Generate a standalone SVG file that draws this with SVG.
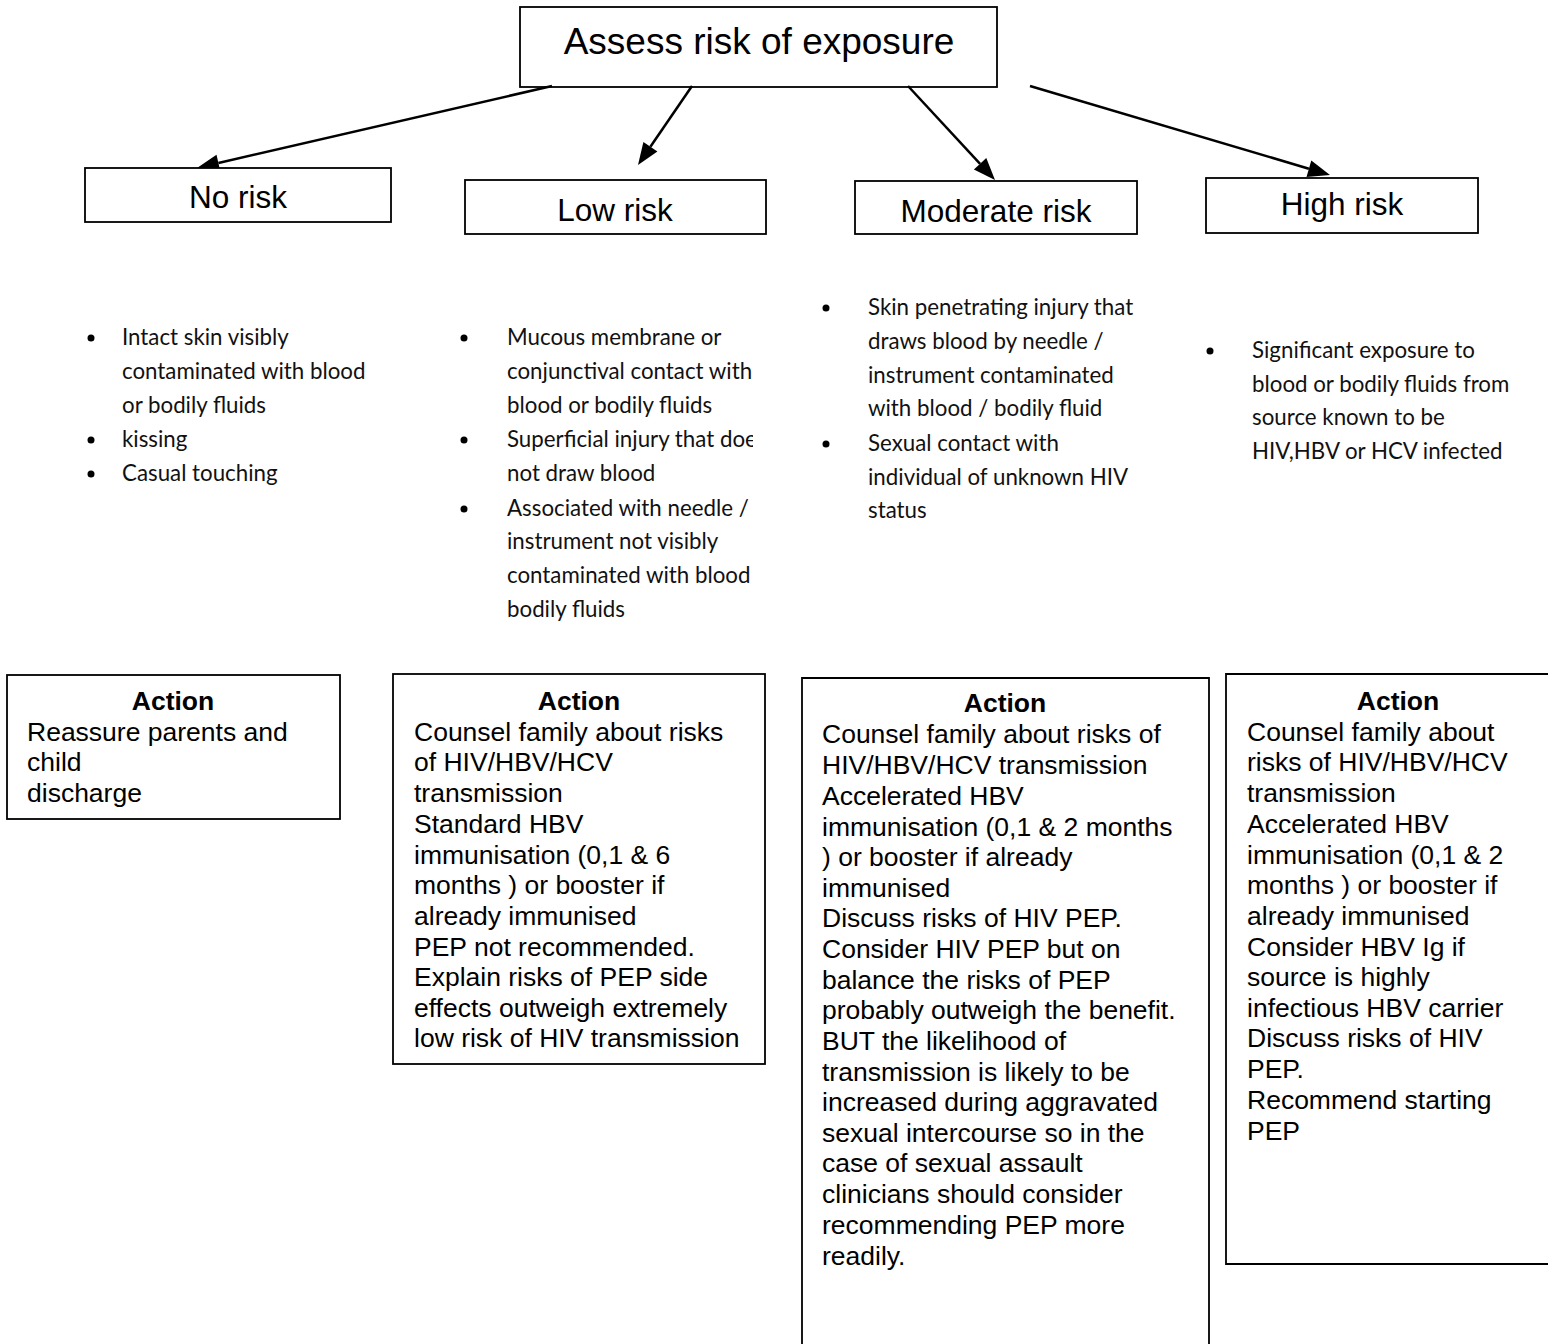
<svg xmlns="http://www.w3.org/2000/svg" width="1548" height="1344" viewBox="0 0 1548 1344">
<style>
.box{fill:#fff;stroke:#000;stroke-width:1.8}
.t{font-family:"Liberation Sans",Arial,sans-serif;fill:#000}
.title{font-size:37px}
.lvl{font-size:31.5px}
.act{font-size:26.5px}
.bold{font-weight:bold}
.bl{font-family:Lato,"Open Sans",sans-serif;font-size:22.3px;fill:#111}
.conn{stroke:#000;stroke-width:2.5;fill:none}
.head{fill:#000;stroke:none}
</style>
<defs>
<clipPath id="lowclip"><rect x="440" y="300" width="313" height="330"/></clipPath>
</defs>
<rect width="1548" height="1344" fill="#fff"/>

<g id="assess">
<rect class="box" x="520" y="7" width="477" height="80"/>
<text class="t title" x="759" y="54" text-anchor="middle">Assess risk of exposure</text>
</g>

<g id="connectors">
<line class="conn" x1="552" y1="86" x2="218.4" y2="163"/>
<polygon class="head" points="197,168 216.5,154.8 220.3,171.3"/>
<line class="conn" x1="692" y1="86" x2="650.4" y2="146.8"/>
<polygon class="head" points="638,165 643.4,142 657.4,151.6"/>
<line class="conn" x1="908" y1="86" x2="980.1" y2="163.9"/>
<polygon class="head" points="995,180 973.9,169.6 986.3,158.1"/>
<line class="conn" x1="1030" y1="86" x2="1308.9" y2="168.7"/>
<polygon class="head" points="1330,175 1306.5,176.9 1311.3,160.6"/>
</g>

<g id="no-risk">
<rect class="box" x="85" y="168" width="306" height="54"/>
<text class="t lvl" x="238" y="208" text-anchor="middle">No risk</text>
</g>
<g id="low-risk">
<rect class="box" x="465" y="180" width="301" height="54"/>
<text class="t lvl" x="615" y="221" text-anchor="middle">Low risk</text>
</g>
<g id="moderate-risk">
<rect class="box" x="855" y="181" width="282" height="53"/>
<text class="t lvl" x="996" y="222" text-anchor="middle">Moderate risk</text>
</g>
<g id="high-risk">
<rect class="box" x="1206" y="178" width="272" height="55"/>
<text class="t lvl" x="1342" y="215" text-anchor="middle">High risk</text>
</g>

<g id="no-risk-criteria">
<circle cx="91" cy="338" r="3.5"/>
<circle cx="91" cy="440" r="3.5"/>
<circle cx="91" cy="474" r="3.5"/>
<text class="bl" x="122" y="345">Intact skin visibly</text>
<text class="bl" x="122" y="379">contaminated with blood</text>
<text class="bl" x="122" y="413">or bodily fluids</text>
<text class="bl" x="122" y="447">kissing</text>
<text class="bl" x="122" y="481">Casual touching</text>
</g>

<g id="low-risk-criteria">
<circle cx="464" cy="338" r="3.5"/>
<circle cx="464" cy="440" r="3.5"/>
<circle cx="464" cy="509" r="3.5"/>
<g clip-path="url(#lowclip)">
<text class="bl" x="507" y="345">Mucous membrane or</text>
<text class="bl" x="507" y="379">conjunctival contact with</text>
<text class="bl" x="507" y="413">blood or bodily fluids</text>
<text class="bl" x="507" y="447">Superficial injury that doe</text>
<text class="bl" x="507" y="481">not draw blood</text>
<text class="bl" x="507" y="516">Associated with needle /</text>
<text class="bl" x="507" y="549">instrument not visibly</text>
<text class="bl" x="507" y="583">contaminated with blood</text>
<text class="bl" x="507" y="617">bodily fluids</text>
</g>
</g>

<g id="moderate-risk-criteria">
<circle cx="826" cy="308" r="3.5"/>
<circle cx="826" cy="444" r="3.5"/>
<text class="bl" x="868" y="315">Skin penetrating injury that</text>
<text class="bl" x="868" y="349">draws blood by needle /</text>
<text class="bl" x="868" y="383">instrument contaminated</text>
<text class="bl" x="868" y="416">with blood / bodily fluid</text>
<text class="bl" x="868" y="451">Sexual contact with</text>
<text class="bl" x="868" y="485">individual of unknown HIV</text>
<text class="bl" x="868" y="518">status</text>
</g>

<g id="high-risk-criteria">
<circle cx="1210" cy="351" r="3.5"/>
<text class="bl" x="1252" y="358">Significant exposure to</text>
<text class="bl" x="1252" y="392">blood or bodily fluids from</text>
<text class="bl" x="1252" y="425">source known to be</text>
<text class="bl" x="1252" y="459">HIV,HBV or HCV infected</text>
</g>

<g id="no-risk-action">
<rect class="box" x="7" y="675" width="333" height="144"/>
<text class="t act bold" x="173" y="710" text-anchor="middle">Action</text>
<text class="t act" x="27" y="741">Reassure parents and</text>
<text class="t act" x="27" y="771">child</text>
<text class="t act" x="27" y="802">discharge</text>
</g>

<g id="low-risk-action">
<rect class="box" x="393" y="674" width="372" height="390"/>
<text class="t act bold" x="579" y="710" text-anchor="middle">Action</text>
<text class="t act" x="414" y="741">Counsel family about risks</text>
<text class="t act" x="414" y="771">of HIV/HBV/HCV</text>
<text class="t act" x="414" y="802">transmission</text>
<text class="t act" x="414" y="833">Standard HBV</text>
<text class="t act" x="414" y="864">immunisation (0,1 &amp; 6</text>
<text class="t act" x="414" y="894">months ) or booster if</text>
<text class="t act" x="414" y="925">already immunised</text>
<text class="t act" x="414" y="956">PEP not recommended.</text>
<text class="t act" x="414" y="986">Explain risks of PEP side</text>
<text class="t act" x="414" y="1017">effects outweigh extremely</text>
<text class="t act" x="414" y="1047">low risk of HIV transmission</text>
</g>

<g id="moderate-risk-action">
<path class="box" d="M802,1350 V678 H1209 V1350"/>
<text class="t act bold" x="1005" y="712" text-anchor="middle">Action</text>
<text class="t act" x="822" y="743">Counsel family about risks of</text>
<text class="t act" x="822" y="774">HIV/HBV/HCV transmission</text>
<text class="t act" x="822" y="805">Accelerated HBV</text>
<text class="t act" x="822" y="836">immunisation (0,1 &amp; 2 months</text>
<text class="t act" x="822" y="866">) or booster if already</text>
<text class="t act" x="822" y="897">immunised</text>
<text class="t act" x="822" y="927">Discuss risks of HIV PEP.</text>
<text class="t act" x="822" y="958">Consider HIV PEP but on</text>
<text class="t act" x="822" y="989">balance the risks of PEP</text>
<text class="t act" x="822" y="1019">probably outweigh the benefit.</text>
<text class="t act" x="822" y="1050">BUT the likelihood of</text>
<text class="t act" x="822" y="1081">transmission is likely to be</text>
<text class="t act" x="822" y="1111">increased during aggravated</text>
<text class="t act" x="822" y="1142">sexual intercourse so in the</text>
<text class="t act" x="822" y="1172">case of sexual assault</text>
<text class="t act" x="822" y="1203">clinicians should consider</text>
<text class="t act" x="822" y="1234">recommending PEP more</text>
<text class="t act" x="822" y="1265">readily.</text>
</g>

<g id="high-risk-action">
<path class="box" d="M1560,674 H1226 V1264 H1560"/>
<text class="t act bold" x="1398" y="710" text-anchor="middle">Action</text>
<text class="t act" x="1247" y="741">Counsel family about</text>
<text class="t act" x="1247" y="771">risks of HIV/HBV/HCV</text>
<text class="t act" x="1247" y="802">transmission</text>
<text class="t act" x="1247" y="833">Accelerated HBV</text>
<text class="t act" x="1247" y="864">immunisation (0,1 &amp; 2</text>
<text class="t act" x="1247" y="894">months ) or booster if</text>
<text class="t act" x="1247" y="925">already immunised</text>
<text class="t act" x="1247" y="956">Consider HBV Ig if</text>
<text class="t act" x="1247" y="986">source is highly</text>
<text class="t act" x="1247" y="1017">infectious HBV carrier</text>
<text class="t act" x="1247" y="1047">Discuss risks of HIV</text>
<text class="t act" x="1247" y="1078">PEP.</text>
<text class="t act" x="1247" y="1109">Recommend starting</text>
<text class="t act" x="1247" y="1140">PEP</text>
</g>
</svg>
